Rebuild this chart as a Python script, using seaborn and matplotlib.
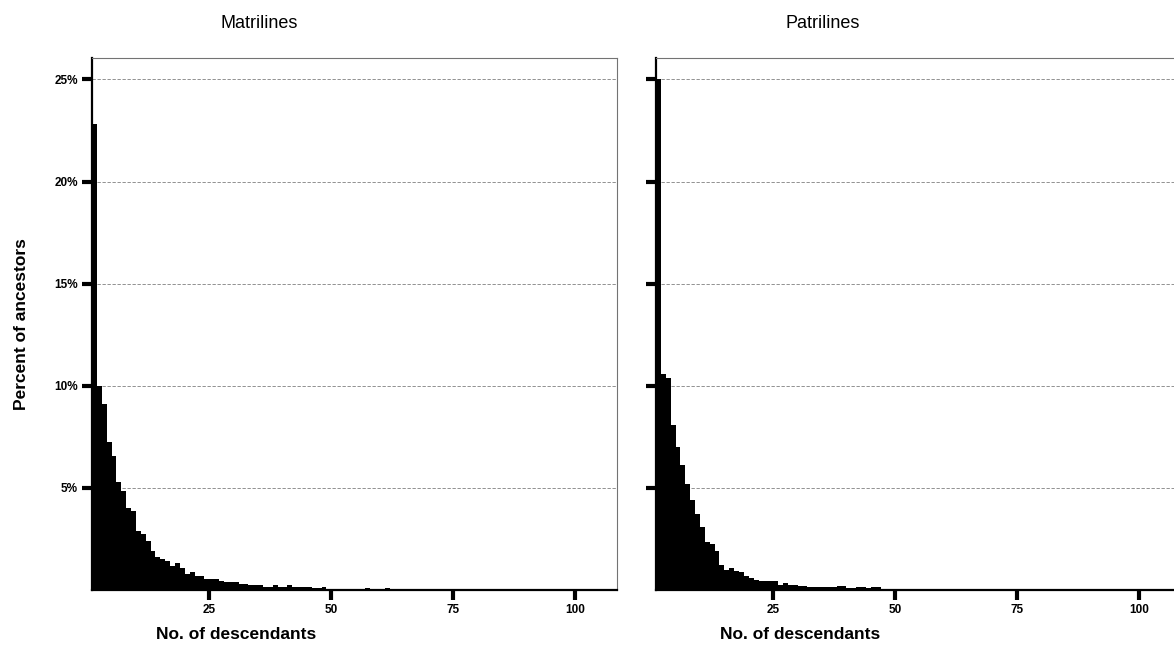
import numpy as np
import pandas as pd
import matplotlib
matplotlib.use("Agg")
import matplotlib.pyplot as plt
import seaborn as sns

sns.set_style("white")
plt.rcParams['font.family'] = ['Liberation Sans', 'DejaVu Sans']
plt.rcParams['text.color'] = 'black'
plt.rcParams['axes.labelcolor'] = 'black'
plt.rcParams['xtick.color'] = 'black'
plt.rcParams['ytick.color'] = 'black'

# number of descendants (bins k .. k+1)
descendants = list(range(1, 108))

# percent of ancestors
matri_pct = [22.8, 10.0, 9.1, 7.24, 6.55, 5.31, 4.87, 4.0, 3.89, 2.91,
             2.74, 2.38, 1.93, 1.6, 1.52, 1.44, 1.19, 1.30, 1.08, 0.78,
             0.90, 0.68, 0.68, 0.52, 0.54, 0.54, 0.45, 0.41, 0.37, 0.37,
             0.29, 0.29, 0.24, 0.24, 0.24, 0.16, 0.16, 0.23, 0.16, 0.16,
             0.24, 0.13, 0.13, 0.13, 0.13, 0.10, 0.08, 0.16, 0.06, 0.05,
             0.05, 0.05, 0.05, 0.05, 0.04, 0.04, 0.12, 0.04, 0.04, 0.0,
             0.10, 0.0, 0.04, 0.0, 0.0, 0.04, 0.0, 0.0, 0.0, 0.05,
             0.05, 0.0, 0.0, 0.04, 0.0, 0.0, 0.05, 0.05, 0.0, 0.0,
             0.0, 0.0, 0.05, 0.05, 0.05, 0.05, 0.0, 0.0, 0.0, 0.0,
             0.0, 0.0, 0.0, 0.0, 0.04, 0.0, 0.0, 0.0, 0.04, 0.0,
             0.0, 0.04, 0.0, 0.0, 0.0, 0.0, 0.0]

patri_pct = [25.0, 10.6, 10.4, 8.1, 7.0, 6.1, 5.2, 4.4, 3.7, 3.1,
             2.35, 2.24, 1.92, 1.22, 1.0, 1.1, 0.94, 0.86, 0.7, 0.58,
             0.49, 0.45, 0.45, 0.45, 0.42, 0.26, 0.34, 0.24, 0.24, 0.22,
             0.22, 0.16, 0.16, 0.15, 0.15, 0.14, 0.13, 0.18, 0.18, 0.10,
             0.10, 0.16, 0.16, 0.10, 0.16, 0.15, 0.06, 0.05, 0.05, 0.05,
             0.05, 0.05, 0.04, 0.04, 0.05, 0.04, 0.04, 0.0, 0.04, 0.0,
             0.04, 0.0, 0.0, 0.04, 0.0, 0.04, 0.0, 0.0, 0.04, 0.0,
             0.0, 0.04, 0.0, 0.0, 0.0, 0.04, 0.0, 0.0, 0.0, 0.04,
             0.0, 0.0, 0.04, 0.0, 0.0, 0.0, 0.0, 0.04, 0.0, 0.0,
             0.04, 0.0, 0.0, 0.0, 0.0, 0.04, 0.0, 0.04, 0.04, 0.04,
             0.04, 0.04, 0.0, 0.04, 0.0, 0.0, 0.0]

panel_titles = ["Matrilines", "Patrilines"]
y_ticks = [5, 10, 15, 20, 25]
y_tick_labels = ["5%", "10%", "15%", "20%", "25%"]
x_ticks = [25, 50, 75, 100]

df = pd.DataFrame({"descendants": descendants,
                   "Matrilines": matri_pct,
                   "Patrilines": patri_pct})

fig = plt.figure(figsize=(11.74, 6.67), dpi=100)
ax1 = fig.add_axes([92 / 1174, 77 / 667, 525 / 1174, 532 / 667])
ax2 = fig.add_axes([656 / 1174, 77 / 667, 525 / 1174, 532 / 667])

bins = list(range(1, 109))
for i, (ax, name) in enumerate(zip([ax1, ax2], panel_titles)):
    sns.histplot(data=df, x="descendants", weights=name, bins=bins,
                 color="black", alpha=1, linewidth=0, ax=ax)
    ax.set_xlim(1, 108.5)
    ax.set_ylim(0, 26.05)
    ax.set_axisbelow(True)
    ax.yaxis.grid(True, linestyle=(0, (4, 2)), color="0.5", linewidth=0.6)
    ax.xaxis.grid(False)
    ax.set_yticks(y_ticks)
    ax.set_xticks(x_ticks)
    ax.set_xticklabels([str(t) for t in x_ticks], fontsize=8.5, fontweight="bold")
    if i == 0:
        ax.set_yticklabels(y_tick_labels, fontsize=8.5, fontweight="bold")
        ax.set_ylabel("Percent of ancestors", fontsize=12.5, fontweight="bold", labelpad=18)
    else:
        ax.set_yticklabels([])
        ax.set_ylabel("")
    ax.tick_params(axis="both", which="major", bottom=True, left=True,
                   direction="out", length=7, width=3, color="black", pad=3)
    ax.set_xlabel("No. of descendants", fontsize=12.5, fontweight="bold")
    ax.xaxis.set_label_coords(0.275, -0.07)
    ax.text(0.318, 1.065, name, transform=ax.transAxes, ha="center", va="center", fontsize=13)
    for side in ["left", "bottom"]:
        ax.spines[side].set_color("black")
        ax.spines[side].set_linewidth(1.6)
    for side in ["top", "right"]:
        ax.spines[side].set_color("0.45")
        ax.spines[side].set_linewidth(0.8)

fig.savefig("out.png", dpi=100)
